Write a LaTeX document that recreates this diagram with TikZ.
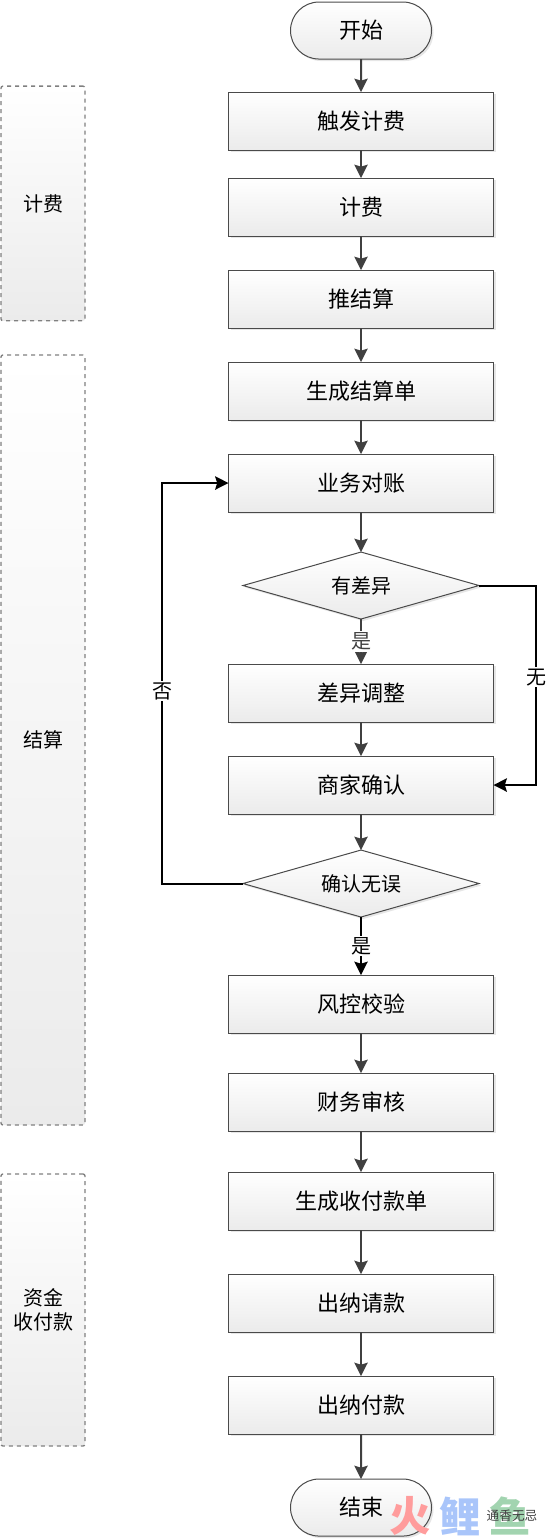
\documentclass[tikz,border=0pt]{standalone}
\usepackage{fontspec}
\setmainfont{Noto Sans CJK SC}
\usetikzlibrary{positioning}
\usetikzlibrary{arrows.meta}
\usetikzlibrary{shapes.misc,shapes.geometric}
\usetikzlibrary{shadows}
\definecolor{fc-line}{HTML}{404040}
\definecolor{fc-edge}{HTML}{4A4A4A}
\definecolor{fc-shade}{HTML}{EBEBEB}
\definecolor{fc-dash}{HTML}{808080}
\definecolor{wm-red}{HTML}{FF9C9C}
\definecolor{wm-blue}{HTML}{A9C5FA}
\definecolor{wm-green}{HTML}{A2D4B0}

\begin{document}
\begin{tikzpicture}[
    font=\fontsize{16.5pt}{20pt}\selectfont,
    node distance=25.5pt
  ]

  \tikzset{
    shaded box/.style={draw=fc-edge, line width=0.75pt, outer sep=0pt, top color=white, bottom color=fc-shade, drop shadow={shadow xshift=1.5pt, shadow yshift=-1.5pt, opacity=0.2}},
    stepbox/.style={shaded box, minimum width=198.75pt, minimum height=43.5pt, inner sep=0pt, align=center},
    endbox/.style={shaded box, rounded rectangle, minimum width=105.75pt, minimum height=42.75pt, inner sep=0pt},
    checkbox/.style={shaded box, diamond, aspect=3.5, minimum width=177pt, minimum height=50.25pt, inner sep=0pt, font=\fontsize{15pt}{18pt}\selectfont},
    phase/.style={draw=fc-dash, line width=1pt, dashed, outer sep=0pt, rounded corners=1.5pt, top color=white, bottom color=fc-shade, minimum width=63pt, inner sep=0pt, align=center, font=\fontsize{15pt}{18pt}\selectfont},
    flow/.style={-{Stealth[length=10pt,width=10pt,inset=1.5pt]}, fc-line, line width=1.5pt},
    loopback/.style={-{Stealth[length=10pt,width=10pt,inset=1.5pt]}, black, line width=1.5pt},
    answer/.style={fill=white, inner sep=1pt, font=\fontsize{15pt}{18pt}\selectfont},
    mark char/.style={font=\fontsize{31pt}{34pt}\selectfont\bfseries, inner sep=0pt}
  }

  \useasboundingbox (0,0) rectangle (417pt,-1155pt);

  % Phases down the left side
  \node (billing) [phase, minimum height=176pt] at (32.25pt,-152.6pt) {计费};
  \node (settle)  [phase, minimum height=577.5pt] at (32.25pt,-555pt) {结算};
  \node (pay)     [phase, minimum height=204pt] at (32.25pt,-982.5pt) {资金\\收付款};

  % Main flow, top to bottom
  \node (start)   [endbox] at (270.75pt,-22.9pt) {开始};
  \node (trigger) [stepbox, below=24.75pt of start] {触发计费};
  \node (charge)  [stepbox, below=21pt of trigger] {计费};
  \node (push)    [stepbox, below=of charge] {推结算};
  \node (bill)    [stepbox, below=of push] {生成结算单};
  \node (recon)   [stepbox, below=of bill] {业务对账};
  \node (diff)    [checkbox, below=30pt of recon] {有差异};
  \node (adjust)  [stepbox, below=33.75pt of diff] {差异调整};
  \node (merchant)[stepbox, below=of adjust] {商家确认};
  \node (verify)  [checkbox, below=27pt of merchant] {确认无误};
  \node (risk)    [stepbox, below=43.5pt of verify] {风控校验};
  \node (audit)   [stepbox, below=30pt of risk] {财务审核};
  \node (order)   [stepbox, below=30.75pt of audit] {生成收付款单};
  \node (request) [stepbox, below=33pt of order] {出纳请款};
  \node (payout)  [stepbox, below=33pt of request] {出纳付款};
  \node (finish)  [endbox, below=33.75pt of payout] {结束};

  % Straight connections
  \draw[flow] (start) -- (trigger);
  \draw[flow] (trigger) -- (charge);
  \draw[flow] (charge) -- (push);
  \draw[flow] (push) -- (bill);
  \draw[flow] (bill) -- (recon);
  \draw[flow] (recon) -- (diff);
  \draw[flow] (diff) -- node[answer] {是} (adjust);
  \draw[flow] (adjust) -- (merchant);
  \draw[flow] (merchant) -- (verify);
  \draw[loopback] (verify) -- node[answer] {是} (risk);
  \draw[flow] (risk) -- (audit);
  \draw[flow] (audit) -- (order);
  \draw[flow] (order) -- (request);
  \draw[flow] (request) -- (payout);
  \draw[flow] (payout) -- (finish);

  % Branches round the side
  \draw[loopback] (diff.east) -- ++(42.75pt,0) |- node[answer, pos=0.23] {无} (merchant.east);
  \draw[loopback] (verify.west) -- ++(-60.75pt,0) |- node[answer, pos=0.24] {否} (recon.west);

  % Mark in the corner
  \node (markfire) [mark char, text=wm-red]   at (307.5pt,-1137pt) {火};
  \node (markcarp) [mark char, text=wm-blue]  at (345pt,-1137pt) {鲤};
  \node (markfish) [mark char, text=wm-green] at (382.5pt,-1137pt) {鱼};
  \node (markname) [inner sep=0pt, font=\fontsize{9.5pt}{11pt}\selectfont, text=fc-line] at (384pt,-1137pt) {通香无忌};

\end{tikzpicture}
\end{document}
